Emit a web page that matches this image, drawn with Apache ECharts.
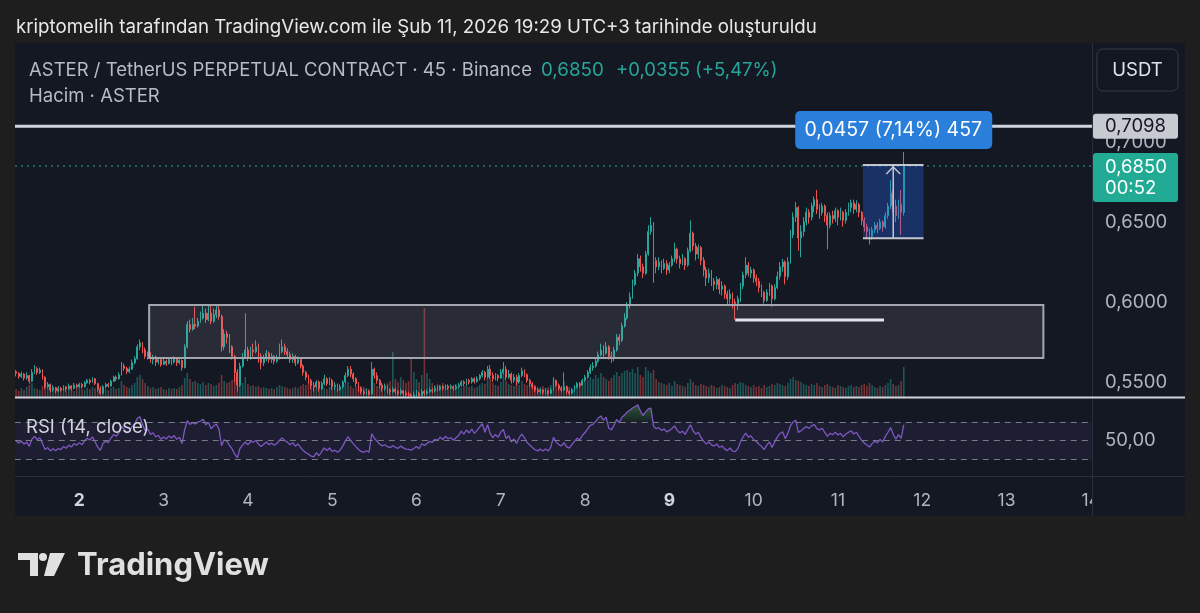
<!DOCTYPE html>
<html>
<head>
<meta charset="utf-8">
<title>ASTERUSDT.P 45</title>
<style>
  html, body { margin: 0; padding: 0; background: #1e1e1e; }
  #main { width: 1200px; height: 613px; }
</style>
</head>
<body>
<div id="main"></div>
<script src="https://cdn.jsdelivr.net/npm/echarts@6/dist/echarts.min.js"></script>
<script>
// 45 dk mumlar, 1 Şub 06:00 -> 11 Şub 18:45 (fiyatlar 0,0001 biriminde)
var firstOpen = 5565;
var closes = [
  5555,5535,5550,5525,5540,5505,5560,5585,5560,5575, 5530,5470,5485,5450,5465,5445,5460,5450,5470,5455,
  5475,5460,5480,5470,5485,5470,5495,5510,5500,5520, 5490,5455,5430,5470,5485,5475,5505,5530,5520,5545,
  5600,5585,5565,5580,5620,5645,5720,5745,5700,5660, 5675,5640,5655,5625,5640,5610,5630,5615,5640,5625,
  5645,5620,5635,5590,5720,5860,5830,5860,5850,5880, 5900,5930,5890,5930,5880,5920,5950,5910,5720,5800,
  5780,5720,5660,5560,5480,5600,5650,5700,5650,5700, 5690,5720,5660,5620,5650,5680,5640,5660,5630,5650,
  5690,5720,5690,5670,5640,5660,5620,5640,5600,5560, 5530,5510,5480,5470,5500,5460,5490,5520,5490,5510,
  5470,5480,5455,5470,5500,5540,5580,5550,5520,5490, 5460,5440,5430,5440,5425,5580,5540,5510,5480,5460,
  5470,5450,5440,5455,5440,5430,5445,5430,5420,5418, 5412,5420,5430,5415,5440,5430,5440,5450,5445,5460,
  5455,5470,5460,5475,5465,5470,5460,5470,5480,5500, 5490,5510,5500,5520,5505,5520,5540,5560,5530,5580,
  5540,5520,5540,5525,5560,5580,5530,5550,5510,5530, 5500,5540,5570,5545,5510,5490,5470,5450,5440,5450,
  5435,5445,5430,5450,5510,5480,5460,5450,5470,5440, 5430,5450,5470,5490,5480,5510,5530,5560,5590,5600,
  5630,5670,5700,5680,5720,5660,5650,5700,5780,5760, 5850,5900,5980,6030,6110,6180,6270,6220,6180,6300,
  6440,6480,6260,6220,6250,6210,6240,6200,6230,6270, 6330,6270,6240,6270,6230,6320,6430,6350,6300,6340,
  6260,6200,6150,6180,6130,6110,6140,6080,6100,6050, 6020,6050,6000,5990,6020,6100,6170,6230,6180,6200,
  6150,6130,6090,6060,6010,6060,6100,6020,6090,6160, 6220,6250,6160,6250,6420,6530,6590,6400,6440,6500,
  6560,6530,6600,6640,6580,6560,6600,6540,6480,6540, 6520,6570,6530,6560,6510,6560,6590,6620,6580,6610,
  6560,6510,6470,6440,6410,6450,6480,6460,6500,6470, 6540,6600,6680,6600,6540,6610,6560,6850
];
var highs = [
  5575,5560,5565,5555,5560,5545,5580,5605,5595,5590, 5580,5535,5500,5490,5480,5470,5475,5470,5480,5475,
  5490,5480,5495,5490,5495,5495,5505,5520,5520,5530, 5525,5495,5470,5480,5495,5495,5515,5540,5540,5560,
  5625,5615,5595,5595,5640,5660,5735,5765,5750,5715, 5690,5685,5670,5665,5655,5650,5645,5640,5655,5650,
  5660,5650,5645,5640,5735,5880,5890,5900,5970,5900, 5940,5985,5960,5975,5985,5960,5975,5985,5920,5830,
  5820,5800,5730,5670,5580,5620,5680,5930,5720,5720, 5740,5760,5740,5680,5670,5700,5690,5680,5670,5670,
  5740,5765,5740,5710,5690,5680,5670,5660,5650,5610, 5570,5545,5520,5500,5510,5510,5505,5545,5530,5530,
  5520,5500,5490,5485,5510,5560,5600,5600,5560,5530, 5500,5470,5455,5455,5450,5625,5590,5560,5520,5495,
  5490,5480,5460,5470,5465,5450,5460,5450,5445,5440, 5430,5440,5450,5440,5455,5450,5455,5465,5460,5475,
  5475,5480,5480,5485,5485,5485,5480,5485,5495,5510, 5510,5520,5520,5530,5530,5535,5550,5575,5570,5600,
  5606,5560,5555,5550,5580,5625,5600,5575,5560,5550, 5545,5555,5590,5580,5555,5520,5500,5480,5465,5460,
  5455,5460,5450,5465,5530,5515,5490,5475,5560,5475, 5450,5460,5480,5500,5500,5520,5545,5575,5610,5625,
  5650,5690,5740,5730,5750,5730,5690,5720,5800,5800, 5870,5930,6000,6060,6140,6200,6300,6290,6240,6320,
  6480,6530,6500,6280,6280,6260,6270,6260,6250,6290, 6370,6340,6290,6300,6280,6340,6510,6440,6370,6360,
  6350,6280,6220,6210,6200,6150,6160,6150,6130,6110, 6070,6080,6060,6020,6040,6120,6190,6280,6250,6220,
  6210,6170,6150,6110,6070,6080,6120,6110,6110,6190, 6250,6270,6260,6280,6450,6560,6625,6600,6480,6530,
  6590,6580,6620,6660,6700,6610,6620,6610,6560,6560, 6570,6590,6580,6590,6570,6580,6620,6640,6640,6635,
  6620,6570,6530,6490,6460,6470,6500,6500,6520,6510, 6560,6620,6760,6700,6640,6640,6700,6938
];
var lows = [
  5535,5520,5525,5510,5515,5490,5500,5550,5545,5550, 5515,5455,5460,5435,5440,5430,5435,5440,5445,5440,
  5450,5445,5455,5460,5465,5460,5465,5490,5485,5495, 5480,5440,5420,5425,5460,5465,5470,5500,5505,5515,
  5540,5570,5550,5555,5575,5610,5640,5700,5680,5645, 5640,5620,5610,5600,5610,5595,5605,5600,5610,5605,
  5615,5600,5610,5570,5585,5710,5810,5820,5830,5840, 5870,5890,5870,5880,5860,5870,5900,5890,5690,5700,
  5740,5680,5640,5500,5440,5470,5590,5650,5630,5640, 5660,5680,5620,5580,5600,5630,5620,5620,5610,5620,
  5640,5680,5670,5650,5620,5620,5600,5610,5585,5540, 5510,5490,5455,5440,5460,5440,5450,5480,5475,5480,
  5450,5450,5440,5445,5460,5490,5530,5530,5500,5470, 5440,5425,5415,5420,5415,5420,5520,5490,5460,5440,
  5445,5430,5420,5430,5425,5415,5420,5410,5410,5408, 5408,5408,5410,5408,5410,5415,5420,5430,5430,5435,
  5440,5445,5445,5450,5450,5455,5445,5450,5460,5470, 5475,5480,5485,5490,5490,5495,5510,5530,5510,5520,
  5520,5500,5510,5505,5520,5545,5510,5520,5490,5495, 5480,5490,5530,5530,5495,5470,5455,5435,5425,5425,
  5420,5425,5415,5425,5445,5470,5445,5435,5445,5425, 5415,5425,5440,5460,5465,5475,5500,5520,5550,5570,
  5590,5620,5660,5650,5670,5640,5620,5630,5690,5730, 5750,5840,5890,5960,6020,6100,6160,6190,6150,6170,
  6290,6420,6120,6180,6200,6180,6200,6170,6180,6220, 6250,6240,6210,6230,6200,6220,6310,6320,6260,6270,
  6230,6160,6100,6120,6100,6070,6080,6050,6040,6020, 5980,5990,5960,5890,5950,6000,6080,6150,6160,6150,
  6120,6100,6060,6030,5990,6000,6040,5970,6010,6080, 6140,6190,6110,6140,6240,6400,6500,6320,6280,6410,
  6480,6490,6510,6560,6550,6520,6540,6500,6330,6460, 6490,6500,6480,6510,6470,6490,6540,6560,6550,6560,
  6530,6480,6440,6400,6360,6390,6430,6430,6450,6440, 6460,6520,6580,6560,6500,6520,6420,6540
];
var volumes = [
  8,6,9,7,10,12,14,9,8,7,11,13,9,8,7,6,8,7,9,6,
  7,8,6,9,10,8,7,9,8,10,9,12,11,9,8,7,9,10,8,9,
  16,12,10,9,12,14,20,22,18,14,11,9,10,8,9,10,8,7,9,8,
  9,8,10,12,19,24,18,15,16,14,13,15,12,14,13,11,12,14,22,16,
  14,15,17,20,25,18,14,20,13,11,12,10,11,9,10,9,8,9,8,10,
  12,11,10,9,8,9,10,9,11,13,12,14,12,10,9,11,10,9,8,10,
  9,10,8,9,11,13,15,11,9,10,12,11,10,9,8,20,14,11,10,9,
  12,14,16,45,18,15,20,17,14,16,40,25,18,15,22,89,24,18,14,12,
  13,12,14,11,10,12,11,13,10,9,11,12,10,11,9,10,12,14,13,18,
  20,14,12,11,15,22,16,13,12,11,14,12,16,13,12,11,10,12,9,10,
  11,9,10,12,18,14,11,10,16,12,10,9,11,13,12,14,15,17,20,18,
  22,19,24,20,18,16,19,22,25,21,24,26,27,25,28,24,30,22,20,30,
  26,24,27,18,15,14,13,12,14,11,16,13,12,11,10,14,18,15,12,11,
  13,12,11,10,12,11,9,10,12,11,10,9,12,14,13,15,14,12,11,10,
  12,10,11,9,12,10,11,13,12,14,13,12,11,14,18,20,17,16,15,13,
  12,11,13,12,14,11,10,12,13,11,10,9,12,11,10,9,11,12,10,11,
  10,12,13,11,14,12,10,9,11,10,12,14,18,13,11,12,16,30
];
var priceTicks = [0.55, 0.60, 0.65, 0.70];
var rsiTicks = [50];
var rsiLevels = [70, 50, 30];
var boldDays = ['2', '9'];

// çizimler (fiyat / mum sırası)
var levelLine = 0.7098;
var lastPrice = 0.6850;
var rangeBox = { from: 50.5, to: 390, top: 0.5981, bottom: 0.5650 };
var supportLine = { from: 273, to: 329.5, price: 0.5888 };
var measure = { from: 321.5, to: 344.5, low: 0.6399, high: 0.6856, at: 333, text: '0,0457 (7,14%) 457' };

var myChart = echarts.init(document.getElementById('main'));

var UP = '#26a69a', DOWN = '#ef5350', PANEL = '#141823', OUTER = '#1e1e1e';
var FONT = 'Inter, Roboto, sans-serif';

var slots = 409;
function pad(n) { return n < 10 ? '0' + n : '' + n; }
var cats = [];
for (var k = 0; k < slots; k++) {
  var t = 6 * 60 + k * 45;
  var d = 1 + Math.floor(t / 1440), m = t % 1440;
  cats.push(d + ' ' + pad(Math.floor(m / 60)) + ':' + pad(m % 60));
}

var candles = [], vols = [];
for (var i = 0; i < closes.length; i++) {
  var o = i === 0 ? firstOpen : closes[i - 1];
  candles.push([o / 1e4, closes[i] / 1e4, lows[i] / 1e4, highs[i] / 1e4]);
  vols.push({ value: volumes[i], itemStyle: { color: closes[i] >= o ? 'rgba(38,166,154,0.45)' : 'rgba(239,83,80,0.45)' } });
}

// RSI(14) kapanışlardan, Wilder ortalaması; başlangıç ortalamaları ilk 14 değişimden
function calcRsi(src, len) {
  var s = 0;
  for (var j = 1; j <= len; j++) s += Math.abs(src[j] - src[j - 1]);
  var ag = s / (2 * len), al = s / (2 * len);
  var out = [50];
  for (var i = 1; i < src.length; i++) {
    var ch = src[i] - src[i - 1];
    var g = ch > 0 ? ch : 0, l = ch < 0 ? -ch : 0;
    ag = (ag * (len - 1) + g) / len;
    al = (al * (len - 1) + l) / len;
    out.push(al === 0 ? 100 : 100 - 100 / (1 + ag / al));
  }
  return out;
}
var rsi = calcRsi(closes, 14);
var rsiHot = rsi.map(function (v) { return v == null ? null : Math.max(v, 70); });

function comma(v, n) { return v.toFixed(n).replace('.', ','); }

var option = {
  backgroundColor: PANEL,
  animation: false,
  textStyle: { fontFamily: FONT },
  grid: [
    { left: 14.8, width: 1077.3, top: 45, height: 352 },
    { left: 14.8, width: 1077.3, top: 398, height: 78 }
  ],
  xAxis: [
    { type: 'category', data: cats, gridIndex: 0, show: false },
    {
      type: 'category', data: cats, gridIndex: 1,
      axisLine: { show: false }, axisTick: { show: false }, splitLine: { show: false },
      axisLabel: {
        interval: function (idx, val) { return val.slice(-5) === '00:00'; },
        formatter: function (val) {
          var day = val.split(' ')[0];
          return boldDays.indexOf(day) >= 0 ? '{b|' + day + '}' : day;
        },
        margin: 16, color: '#b2b5be', fontSize: 17.5, fontFamily: FONT,
        rich: { b: { fontWeight: 'bold', color: '#d1d4dc', fontSize: 17.5, fontFamily: FONT } }
      }
    }
  ],
  yAxis: [
    {
      gridIndex: 0, position: 'right', min: 0.540625, max: 0.760625,
      splitLine: { show: false }, axisLine: { show: false }, axisTick: { show: false },
      axisLabel: {
        customValues: priceTicks, formatter: function (v) { return comma(v, 4); },
        color: '#b2b5be', fontSize: 18.5, margin: 13, fontFamily: FONT
      }
    },
    { gridIndex: 0, min: 0, max: 352, show: false },
    {
      gridIndex: 1, position: 'right', min: 12.4, max: 95.4,
      splitLine: { show: false }, axisLine: { show: false }, axisTick: { show: false },
      axisLabel: {
        customValues: rsiTicks, formatter: function (v) { return comma(v, 2); },
        color: '#b2b5be', fontSize: 18.5, margin: 13, fontFamily: FONT
      }
    }
  ],
  series: [
    {
      type: 'bar', xAxisIndex: 0, yAxisIndex: 1, data: vols,
      barWidth: '60%', z: 1, silent: true
    },
    {
      type: 'candlestick', xAxisIndex: 0, yAxisIndex: 0, data: candles,
      barWidth: '52%', z: 3,
      itemStyle: { color: UP, color0: DOWN, borderColor: UP, borderColor0: DOWN, borderWidth: 1 }
    },
    {
      type: 'line', xAxisIndex: 1, yAxisIndex: 2, data: rsiHot,
      symbol: 'none', lineStyle: { width: 0 },
      areaStyle: {
        origin: 70,
        color: new echarts.graphic.LinearGradient(0, 0, 0, 1, [
          { offset: 0, color: 'rgba(76,175,80,0.6)' }, { offset: 1, color: 'rgba(76,175,80,0.1)' }
        ])
      },
      z: 2, silent: true
    },
    {
      type: 'line', xAxisIndex: 1, yAxisIndex: 2, data: rsi,
      symbol: 'none', lineStyle: { color: '#7e57c2', width: 1.3 }, z: 3, silent: true,
      markArea: {
        silent: true, itemStyle: { color: 'rgba(126,87,194,0.1)' },
        data: [[{ yAxis: rsiLevels[2] }, { yAxis: rsiLevels[0] }]]
      },
      markLine: {
        silent: true, symbol: 'none', label: { show: false },
        lineStyle: { color: '#787b86', type: [6, 5], width: 1 },
        data: rsiLevels.map(function (v) { return { yAxis: v }; })
      }
    }
  ]
};
myChart.setOption(option);

function xAt(f) {
  var a = myChart.convertToPixel({ xAxisIndex: 0 }, 0);
  var b = myChart.convertToPixel({ xAxisIndex: 0 }, 100);
  return a + (b - a) * f / 100;
}
function yAt(p) { return myChart.convertToPixel({ yAxisIndex: 0 }, p); }

var g = [];
// çerçeve
g.push({ type: 'rect', shape: { x: 0, y: 0, width: 1200, height: 43 }, style: { fill: OUTER }, z: 100 });
g.push({ type: 'rect', shape: { x: 0, y: 0, width: 15, height: 613 }, style: { fill: OUTER }, z: 100 });
g.push({ type: 'rect', shape: { x: 1185, y: 0, width: 15, height: 613 }, style: { fill: OUTER }, z: 100 });
g.push({ type: 'rect', shape: { x: 0, y: 516, width: 1200, height: 97 }, style: { fill: OUTER }, z: 100 });
g.push({ type: 'rect', shape: { x: 1093, y: 477, width: 92, height: 39 }, style: { fill: PANEL }, z: 40 });
g.push({ type: 'line', shape: { x1: 1092.5, y1: 43, x2: 1092.5, y2: 516 }, style: { stroke: '#2a2e39', lineWidth: 1 }, z: 41 });
g.push({ type: 'line', shape: { x1: 15, y1: 397.5, x2: 1185, y2: 397.5 }, style: { stroke: '#d1d4dc', lineWidth: 2 }, z: 41 });
g.push({ type: 'line', shape: { x1: 15, y1: 476.5, x2: 1185, y2: 476.5 }, style: { stroke: '#2a2e39', lineWidth: 1 }, z: 41 });

// gri aralık kutusu
var bx1 = xAt(rangeBox.from), bx2 = xAt(rangeBox.to), by1 = yAt(rangeBox.top), by2 = yAt(rangeBox.bottom);
g.push({ type: 'rect', shape: { x: bx1, y: by1, width: bx2 - bx1, height: by2 - by1 },
  style: { fill: 'rgba(160,163,172,0.15)', stroke: '#a3a6ae', lineWidth: 2 }, z: 10 });
g.push({ type: 'line', shape: { x1: xAt(supportLine.from), y1: yAt(supportLine.price), x2: xAt(supportLine.to), y2: yAt(supportLine.price) },
  style: { stroke: '#e0e3eb', lineWidth: 3 }, z: 11 });

// yatay seviye ve son fiyat
var yl = yAt(levelLine), yp = yAt(lastPrice);
g.push({ type: 'line', shape: { x1: 15, y1: yl, x2: 1092, y2: yl }, style: { stroke: '#d1d4dc', lineWidth: 3 }, z: 11 });
g.push({ type: 'line', shape: { x1: 15, y1: yp, x2: 1092, y2: yp }, style: { stroke: UP, lineWidth: 1, lineDash: [2, 4] }, z: 11 });

// ölçüm aracı
var mx1 = xAt(measure.from), mx2 = xAt(measure.to), my1 = yAt(measure.high), my2 = yAt(measure.low), ma = xAt(measure.at);
g.push({ type: 'rect', shape: { x: mx1, y: my1, width: mx2 - mx1, height: my2 - my1 }, style: { fill: 'rgba(41,110,255,0.3)' }, z: 12 });
g.push({ type: 'line', shape: { x1: mx1, y1: my1, x2: mx2, y2: my1 }, style: { stroke: '#c3c6ce', lineWidth: 2 }, z: 13 });
g.push({ type: 'line', shape: { x1: mx1, y1: my2, x2: mx2, y2: my2 }, style: { stroke: '#c3c6ce', lineWidth: 2 }, z: 13 });
g.push({ type: 'line', shape: { x1: ma, y1: my2, x2: ma, y2: my1 + 1 }, style: { stroke: '#c3c6ce', lineWidth: 1.5 }, z: 13 });
g.push({ type: 'polyline', shape: { points: [[ma - 7, my1 + 9], [ma, my1 + 2], [ma + 7, my1 + 9]] }, style: { stroke: '#c3c6ce', lineWidth: 1.5, fill: null }, z: 13 });
g.push({ type: 'rect', shape: { x: ma - 98, y: my1 - 54, width: 197, height: 38, r: 5 }, style: { fill: '#2a7fdb' }, z: 14 });
g.push({ type: 'text', x: ma, y: my1 - 35, style: { text: measure.text, fill: '#ffffff', font: '19.5px ' + FONT, align: 'center', verticalAlign: 'middle' }, z: 15 });

// eksen etiketleri
g.push({ type: 'rect', shape: { x: 1093, y: yl - 12.5, width: 85, height: 25, r: 3 }, style: { fill: '#c8cad1' }, z: 20 });
g.push({ type: 'text', x: 1105, y: yl, style: { text: comma(levelLine, 4), fill: '#131722', font: '18.5px ' + FONT, verticalAlign: 'middle' }, z: 21 });
g.push({ type: 'rect', shape: { x: 1093, y: yp - 13, width: 85, height: 49, r: 3 }, style: { fill: '#22ab94' }, z: 20 });
g.push({ type: 'text', x: 1105, y: yp + 1, style: { text: comma(lastPrice, 4), fill: '#ffffff', font: '18.5px ' + FONT, verticalAlign: 'middle' }, z: 21 });
g.push({ type: 'text', x: 1105, y: yp + 22, style: { text: '00:52', fill: '#ffffff', font: '18.5px ' + FONT, verticalAlign: 'middle' }, z: 21 });

// başlıklar
g.push({ type: 'text', x: 16, y: 27, style: { text: 'kriptomelih tarafından TradingView.com ile Şub 11, 2026 19:29 UTC+3 tarihinde oluşturuldu', fill: '#e8e8e8', font: '18.7px ' + FONT, verticalAlign: 'middle' }, z: 101 });
g.push({ type: 'text', x: 29, y: 70, style: { text: 'ASTER / TetherUS PERPETUAL CONTRACT · 45 · Binance', fill: '#b8bbc4', font: '18.5px ' + FONT, verticalAlign: 'middle' }, z: 30 });
g.push({ type: 'text', x: 541, y: 70, style: { text: '0,6850', fill: UP, font: '18.8px ' + FONT, verticalAlign: 'middle' }, z: 30 });
g.push({ type: 'text', x: 616, y: 70, style: { text: '+0,0355 (+5,47%)', fill: UP, font: '18.5px ' + FONT, verticalAlign: 'middle' }, z: 30 });
g.push({ type: 'text', x: 29, y: 96, style: { text: 'Hacim · ASTER', fill: '#b8bbc4', font: '18.5px ' + FONT, verticalAlign: 'middle' }, z: 30 });
g.push({ type: 'rect', shape: { x: 1097, y: 49, width: 81, height: 42, r: 6 }, style: { fill: '#131722', stroke: '#363a45', lineWidth: 1 }, z: 30 });
g.push({ type: 'text', x: 1137.5, y: 70, style: { text: 'USDT', fill: '#e0e3eb', font: '18.5px ' + FONT, align: 'center', verticalAlign: 'middle' }, z: 31 });
g.push({ type: 'text', x: 26, y: 427, style: { text: 'RSI (14, close)', fill: '#d1d4dc', font: '18.5px ' + FONT, verticalAlign: 'middle' }, z: 30 });

// TradingView logo
g.push({ type: 'rect', shape: { x: 18, y: 553, width: 20, height: 7 }, style: { fill: '#e0e0e0' }, z: 101 });
g.push({ type: 'rect', shape: { x: 30, y: 553, width: 8, height: 23 }, style: { fill: '#e0e0e0' }, z: 101 });
g.push({ type: 'circle', shape: { cx: 43, cy: 557, r: 4 }, style: { fill: '#e0e0e0' }, z: 101 });
g.push({ type: 'polygon', shape: { points: [[50, 553], [65, 553], [54, 576], [44, 576]] }, style: { fill: '#e0e0e0' }, z: 101 });
g.push({ type: 'text', x: 77, y: 566, style: { text: 'TradingView', fill: '#e0e0e0', font: 'bold 31px ' + FONT, verticalAlign: 'middle' }, z: 101 });

myChart.setOption({ graphic: { elements: g } });
</script>
</body>
</html>
